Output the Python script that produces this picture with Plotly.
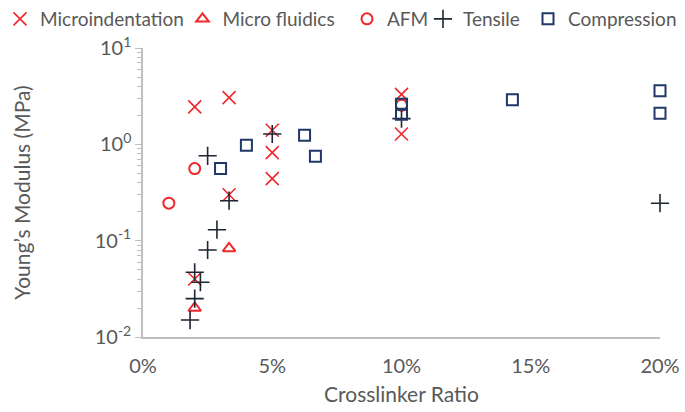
import plotly.graph_objects as go

# ---- data (x = crosslinker ratio as fraction, y = Young's modulus in MPa)
micro_x = [0.02, 0.0333, 0.05, 0.05, 0.05, 0.0333, 0.02, 0.10, 0.10]
micro_y = [2.45, 3.05, 1.40, 0.82, 0.44, 0.30, 0.040, 3.3, 1.28]

fluid_x = [0.0333, 0.02]
fluid_y = [0.083, 0.020]

afm_x = [0.01, 0.02, 0.10]
afm_y = [0.245, 0.56, 2.55]

tens_x = [0.05, 0.025, 0.0333, 0.0286, 0.025, 0.02, 0.0222, 0.02, 0.0182, 0.20, 0.10]
tens_y = [1.28, 0.76, 0.26, 0.13, 0.080, 0.047, 0.037, 0.025, 0.015, 0.245, 1.85]

comp_x = [0.03, 0.04, 0.0625, 0.0667, 0.10, 0.10, 0.1429, 0.20, 0.20]
comp_y = [0.56, 0.98, 1.24, 0.75, 2.6, 2.05, 2.9, 3.6, 2.1]

x_tickvals = [0, 0.05, 0.10, 0.15, 0.20]
x_ticktext = ["0%", "5%", "10%", "15%", "20%"]
y_tickvals = [0.01, 0.1, 1, 10]
y_ticktext = ["10<sup>-2</sup>", "10<sup>-1</sup>", "10<sup>0</sup>", "10<sup>1</sup>"]
y_minor = [m * d for d in (0.01, 0.1, 1) for m in range(2, 10)]

RED = "#F0282D"
DARK = "#1E2533"
NAVY = "#1F3868"
GREY = "#595959"
FONT = "Lato"
W, H = 685, 412

# legend left edges (pixels) for each series' legend box
legend_px = [0, 182.5, 347, 423, 528]

fig = go.Figure()
fig.add_trace(go.Scatter(x=micro_x, y=micro_y, mode="markers", name="Microindentation",
                         legend="legend", cliponaxis=False,
                         marker=dict(symbol="x-thin-open", size=13, color=RED,
                                     line=dict(color=RED, width=1.6))))
fig.add_trace(go.Scatter(x=fluid_x, y=fluid_y, mode="markers", name="Micro fluidics",
                         legend="legend2", cliponaxis=False,
                         marker=dict(symbol="triangle-up-open", size=11, color=RED,
                                     line=dict(color=RED, width=2))))
fig.add_trace(go.Scatter(x=afm_x, y=afm_y, mode="markers", name="AFM",
                         legend="legend3", cliponaxis=False,
                         marker=dict(symbol="circle-open", size=11, color=RED,
                                     line=dict(color=RED, width=2))))
fig.add_trace(go.Scatter(x=tens_x, y=tens_y, mode="markers", name="Tensile",
                         legend="legend4", cliponaxis=False,
                         marker=dict(symbol="cross-thin-open", size=13, color=DARK,
                                     line=dict(color=DARK, width=1.6))))
fig.add_trace(go.Scatter(x=comp_x, y=comp_y, mode="markers", name="Compression",
                         legend="legend5", cliponaxis=False,
                         marker=dict(symbol="square-open", size=11, color=NAVY,
                                     line=dict(color=NAVY, width=2))))

def leg(px):
    return dict(orientation="h", x=px / W, xref="container", y=1, yref="container",
                yanchor="top", xanchor="left", font=dict(size=19, color=GREY, family=FONT),
                bgcolor="rgba(0,0,0,0)", borderwidth=0)

fig.update_layout(
    width=W, height=H,
    margin=dict(l=143, r=25, t=48, b=75, autoexpand=False),
    paper_bgcolor="white", plot_bgcolor="white",
    font=dict(family=FONT, color=GREY, size=20),
    showlegend=True,
    legend=leg(legend_px[0]),
    legend2=leg(legend_px[1]),
    legend3=leg(legend_px[2]),
    legend4=leg(legend_px[3]),
    legend5=leg(legend_px[4]),
    xaxis=dict(range=[0, 0.2], tickvals=x_tickvals, ticktext=x_ticktext,
               showgrid=False, zeroline=False, showline=True, linecolor="#BFBFBF",
               linewidth=1.5, ticks="", tickfont=dict(size=20, color=GREY),
               ticklabelstandoff=10, automargin=False,
               title=dict(text="Crosslinker Ratio", font=dict(size=21, color=GREY), standoff=12)),
    yaxis=dict(type="log", range=[-2, 1], tickvals=y_tickvals, ticktext=y_ticktext,
               showgrid=False, zeroline=False, showline=True, linecolor="#BFBFBF",
               linewidth=1.5, ticks="outside", ticklen=6, tickcolor="#BFBFBF",
               tickfont=dict(size=20, color=GREY), automargin=False,
               minor=dict(tickvals=y_minor, ticks="outside", ticklen=4,
                          tickcolor="#BFBFBF", showgrid=False),
               title=dict(text="Young\u2019s Modulus (MPa)", font=dict(size=21, color=GREY), standoff=58)),
)

fig.write_html("out.html", config={"displayModeBar": False},
               post_script="document.body.style.margin='0px';")
